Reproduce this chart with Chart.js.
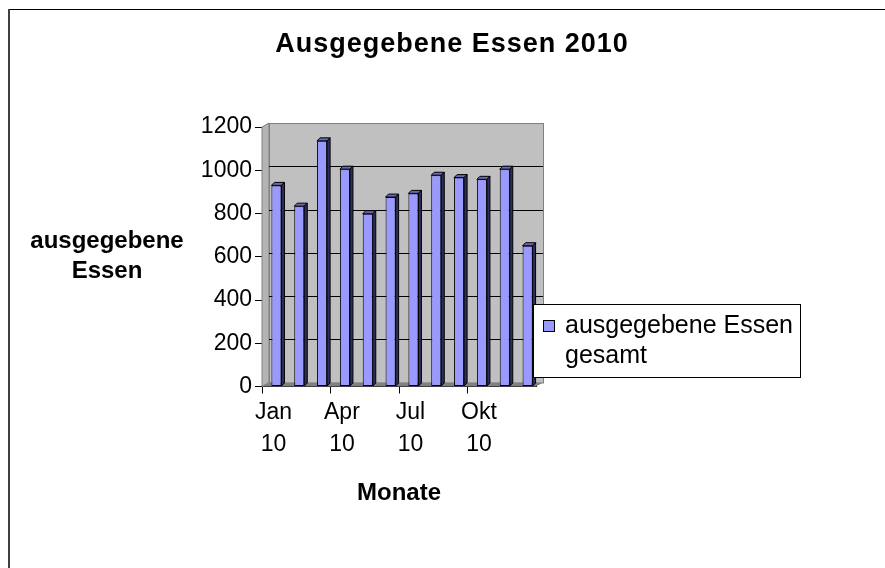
<!DOCTYPE html>
<html>
<head>
<meta charset="utf-8">
<script src="https://cdn.jsdelivr.net/npm/chart.js@4.4.1/dist/chart.umd.min.js"></script>
<style>
	html, body { margin: 0; padding: 0; background: #fff; }
	#wrap { width: 885px; height: 568px; }
</style>
</head>
<body>
<div id="wrap"><canvas id="chart" width="885" height="568"></canvas></div>
<script>
// data
const monthNames = [ 'Jan', 'Feb', 'Mrz', 'Apr', 'Mai', 'Jun', 'Jul', 'Aug', 'Sep', 'Okt', 'Nov', 'Dez' ];
const yearLabel = '10';
const mealsServed = [ 930, 834, 1136, 1005, 799, 876, 893, 977, 966, 958, 1005, 651 ];
const yTicks = [ 0, 200, 400, 600, 800, 1000, 1200 ];

const chartTitle = 'Ausgegebene Essen 2010';
const yTitle = [ 'ausgegebene', 'Essen' ];
const xTitle = 'Monate';
const seriesName = [ 'ausgegebene Essen', 'gesamt' ];

const FONT = "'Liberation Sans', Arial, sans-serif";
const BAR_COLOR = '#9999ff';
const BAR_SHIFT = 3;

// frame round the whole chart (only top and left edge are in the picture)
const framePlugin = {
	id: 'frame',
	beforeDraw: ( chart ) => {
		const ctx = chart.ctx;
		ctx.save();
		ctx.fillStyle = '#fff';
		ctx.fillRect( 0, 0, chart.width, chart.height );
		ctx.fillStyle = '#000';
		ctx.fillRect( 8, 9, chart.width - 8, 1 );
		ctx.fillStyle = '#404040';
		ctx.fillRect( 8, 9, 2, chart.height - 9 );
		ctx.restore();
	}
};

// grey walls and floor behind the bars, like the old 3d look
const wallsPlugin = {
	id: 'walls',
	beforeDatasetsDraw: ( chart ) => {
		const { ctx, chartArea } = chart;
		const { left, right, top, bottom } = chartArea;
		const dx = 7, dy = -4;
		const yScale = chart.scales.y;
		ctx.save();
		ctx.lineWidth = 1;
		// side wall
		ctx.fillStyle = '#b4b4b4';
		ctx.strokeStyle = '#808080';
		ctx.beginPath();
		ctx.moveTo( left, bottom );
		ctx.lineTo( left + dx, bottom + dy );
		ctx.lineTo( left + dx, top + dy );
		ctx.lineTo( left, top );
		ctx.closePath();
		ctx.fill();
		ctx.stroke();
		// back wall
		ctx.fillStyle = '#c0c0c0';
		ctx.fillRect( left + dx, top + dy, right - left, bottom - top );
		ctx.strokeRect( left + dx + 0.5, top + dy + 0.5, right - left, bottom - top );
		// grid lines on the back wall
		ctx.strokeStyle = '#000';
		yTicks.forEach( ( v ) => {
			if ( v === 0 || v === yTicks[ yTicks.length - 1 ] ) {
				return;
			}
			const py = Math.round( yScale.getPixelForValue( v ) + dy ) + 0.5;
			ctx.beginPath();
			ctx.moveTo( left + dx, py );
			ctx.lineTo( right + dx, py );
			ctx.stroke();
		} );
		// floor
		ctx.fillStyle = '#808080';
		ctx.beginPath();
		ctx.moveTo( left, bottom );
		ctx.lineTo( right, bottom );
		ctx.lineTo( right + dx, bottom + dy );
		ctx.lineTo( left + dx, bottom + dy );
		ctx.closePath();
		ctx.fill();
		ctx.restore();

		// bars sit in the middle of the depth, a little to the right
		ctx.save();
		ctx.translate( BAR_SHIFT, 0 );
	}
};

// top and side faces of each bar, then the boxed legend over them
const barsPlugin = {
	id: 'bars3d',
	afterDatasetsDraw: ( chart ) => {
		const ctx = chart.ctx;
		const d = 3;
		ctx.lineWidth = 1;
		ctx.strokeStyle = '#000';
		chart.getDatasetMeta( 0 ).data.forEach( ( bar ) => {
			const l = bar.x - bar.width / 2;
			const r = bar.x + bar.width / 2;
			ctx.fillStyle = '#6868b8';
			ctx.beginPath();
			ctx.moveTo( l, bar.y );
			ctx.lineTo( l + d, bar.y - d );
			ctx.lineTo( r + d, bar.y - d );
			ctx.lineTo( r, bar.y );
			ctx.closePath();
			ctx.fill();
			ctx.stroke();
			ctx.fillStyle = '#2e2e5c';
			ctx.beginPath();
			ctx.moveTo( r, bar.y );
			ctx.lineTo( r + d, bar.y - d );
			ctx.lineTo( r + d, bar.base - d );
			ctx.lineTo( r, bar.base );
			ctx.closePath();
			ctx.fill();
			ctx.stroke();
		} );
		// undo the translate from the walls plugin
		ctx.restore();

		// legend box
		ctx.save();
		const area = chart.chartArea;
		const lx = area.right - 3, ly = 304, lw = 267, lh = 73;
		ctx.fillStyle = '#fff';
		ctx.fillRect( lx, ly, lw, lh );
		ctx.strokeStyle = '#000';
		ctx.strokeRect( lx + 0.5, ly + 0.5, lw, lh );
		ctx.fillStyle = BAR_COLOR;
		ctx.fillRect( lx + 10, ly + 16, 11, 11 );
		ctx.strokeRect( lx + 10.5, ly + 16.5, 11, 11 );
		ctx.fillStyle = '#000';
		ctx.font = '25px ' + FONT;
		ctx.textAlign = 'left';
		ctx.textBaseline = 'alphabetic';
		ctx.fillText( seriesName[ 0 ], lx + 32, ly + 29 );
		ctx.fillText( seriesName[ 1 ], lx + 32, ly + 59 );
		ctx.restore();
	}
};

// chart title and the horizontal y axis title
const textPlugin = {
	id: 'texts',
	afterDraw: ( chart ) => {
		const ctx = chart.ctx;
		const mid = ( chart.chartArea.top + chart.chartArea.bottom ) / 2;
		ctx.save();
		ctx.fillStyle = '#000';
		ctx.textAlign = 'center';
		ctx.textBaseline = 'alphabetic';
		ctx.font = 'bold 27px ' + FONT;
		ctx.letterSpacing = '1px';
		ctx.fillText( chartTitle, ( 18 + chart.width ) / 2 + 0.5, 52 );
		ctx.letterSpacing = '0px';
		ctx.font = 'bold 24px ' + FONT;
		ctx.fillText( yTitle[ 0 ], 107, mid - 9 );
		ctx.fillText( yTitle[ 1 ], 107, mid + 21 );
		ctx.restore();
	}
};

const ctx = document.getElementById( 'chart' ).getContext( '2d' );
const chart = new Chart( ctx, {
	type: 'bar',
	data: {
		labels: monthNames.map( ( m ) => m + ' ' + yearLabel ),
		datasets: [ {
			label: seriesName.join( ' ' ),
			data: mealsServed,
			backgroundColor: BAR_COLOR,
			borderColor: '#000',
			borderWidth: 1,
			borderSkipped: false,
			categoryPercentage: 1,
			barPercentage: 0.44,
		} ]
	},
	options: {
		responsive: false,
		animation: false,
		layout: { padding: { left: 18, right: 349, top: 127, bottom: 0 } },
		plugins: {
			legend: { display: false },
			tooltip: { enabled: false },
			title: { display: false }
		},
		scales: {
			x: {
				grid: {
					display: true,
					drawOnChartArea: false,
					offset: true,
					tickLength: 7,
					color: ( c ) => c.index % 3 === 0 ? '#000' : 'rgba(0,0,0,0)'
				},
				border: { display: true, color: '#000' },
				ticks: {
					autoSkip: false,
					maxRotation: 0,
					padding: 3,
					color: '#000',
					font: { family: FONT, size: 23, lineHeight: 1.41 },
					callback: ( v, i ) => i % 3 === 0 ? [ monthNames[ i ], yearLabel ] : ''
				},
				title: {
					display: true,
					text: xTitle,
					color: '#000',
					font: { family: FONT, size: 24, weight: 'bold', lineHeight: 1.2 },
					padding: { top: 0, bottom: 60 }
				},
				afterFit: ( s ) => { s.height = 181.5; }
			},
			y: {
				min: 0,
				max: 1200,
				grid: { display: true, drawOnChartArea: false, tickLength: 7, color: '#000' },
				border: { display: true, color: '#000' },
				ticks: {
					stepSize: 200,
					padding: 3,
					color: '#000',
					font: { family: FONT, size: 23 },
					callback: ( v ) => String( v )
				},
				afterFit: ( s ) => { s.width = 244; }
			}
		}
	},
	plugins: [ framePlugin, wallsPlugin, barsPlugin, textPlugin ]
} );
</script>
</body>
</html>
